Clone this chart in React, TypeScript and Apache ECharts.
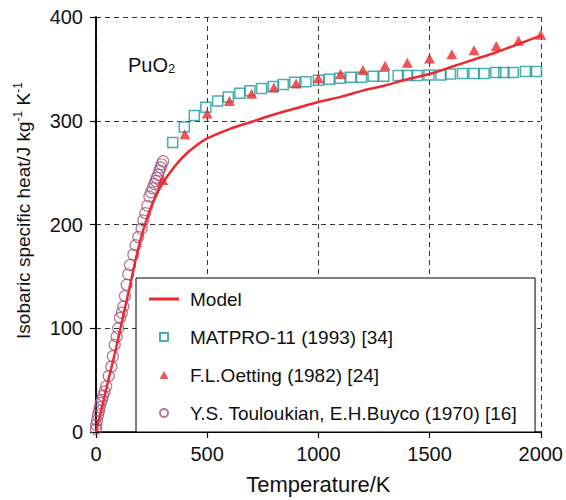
import React, { useEffect, useRef } from 'react';
import * as echarts from 'echarts';

const FONT = '"Liberation Sans", Arial, Helvetica, sans-serif';

const seriesNames = [
  'Model',
  'MATPRO-11 (1993) [34]',
  'F.L.Oetting (1982) [24]',
  'Y.S. Touloukian, E.H.Buyco (1970) [16]',
];

const xTicks = [0, 500, 1000, 1500, 2000];
const yTicks = [0, 100, 200, 300, 400];

const modelT = [0, 25, 50, 75, 100, 125, 150, 175, 200, 225, 250, 275, 300, 350, 400, 450, 500, 600, 700, 800, 900, 1000, 1100, 1200, 1300, 1400, 1500, 1600, 1700, 1800, 1900, 2000];
const modelCp = [0, 22, 45, 67, 90, 115, 138, 163, 185, 203, 218, 230, 240, 255, 267, 276, 283, 292, 299, 306, 312, 318, 323, 329, 334, 340, 345, 352, 359, 366, 374, 382];

const matproT = [345, 397, 442, 494, 547, 595, 647, 692, 745, 797, 842, 894, 944, 1000, 1049, 1097, 1146, 1194, 1246, 1294, 1359, 1401, 1444, 1497, 1551, 1594, 1648, 1699, 1745, 1798, 1834, 1876, 1931, 1981];
const matproCp = [279, 294, 305, 313, 319, 323, 326.5, 329, 331, 333, 335, 337, 337.5, 339, 340, 341, 342, 342, 343, 343, 343.5, 343.5, 343.5, 344, 344, 345, 345.5, 345.5, 345.5, 346.5, 346.5, 346.5, 347.4, 347.4];

const oettingT = [300, 400, 500, 600, 700, 800, 900, 1000, 1100, 1200, 1300, 1400, 1500, 1600, 1700, 1800, 1900, 2000];
const oettingCp = [243, 287, 307, 319, 326, 332, 336, 341, 345, 349, 353, 356, 360, 364, 368, 372, 377, 383];

const toulT = [0, 1, 4, 9, 13, 17, 21, 27, 32, 39, 46, 57, 69, 76, 84, 93, 100, 108, 116, 123, 130, 138, 145, 153, 168, 178, 190, 205, 213, 222, 231, 240, 247, 255, 262, 268, 273, 280, 285, 291, 295, 302];
const toulCp = [3, 7, 11, 16, 20, 24, 28, 31, 35, 39, 44, 54, 63, 73, 84, 92, 100, 110, 115, 121, 131, 142, 152, 161, 171, 180, 188, 196, 204, 211, 218, 227, 231, 235, 239, 242, 245, 248, 252, 255, 258, 261];

const zip = (a: number[], b: number[]) => a.map((v, i) => [v, b[i]]);

const RED = '#ea2a2e';
const TEAL = '#1a9a9c';
const PURPLE = '#a0527f';

export default function App() {
  const ref = useRef<HTMLDivElement>(null);
  useEffect(() => {
    const chart = echarts.init(ref.current!, null, { renderer: 'svg' });
    const dash = { color: '#333', width: 1, type: [5, 4] as any };
    chart.setOption({
      animation: false,
      backgroundColor: '#fff',
      textStyle: { fontFamily: FONT },
      grid: { left: 96, right: 25, top: 17, bottom: 62 },
      xAxis: [
        {
          type: 'value', min: xTicks[0], max: xTicks[xTicks.length - 1], interval: 500,
          name: 'Temperature/K', nameLocation: 'middle', nameGap: 41,
          nameTextStyle: { fontSize: 22, color: '#111', fontFamily: FONT },
          axisLine: { show: true, lineStyle: { color: '#000', width: 1.5 } },
          axisTick: { show: true, inside: false, length: 6, lineStyle: { color: '#000', width: 1.2 } },
          axisLabel: { fontSize: 20, color: '#111', margin: 12, fontFamily: FONT, formatter: (v: number) => String(v) },
          splitLine: { show: true, lineStyle: dash },
        },
        {
          type: 'value', position: 'top', min: 0, max: 2000, interval: 500,
          axisLine: { show: true, lineStyle: { color: '#000', width: 1.2 } },
          axisTick: { show: false }, axisLabel: { show: false }, splitLine: { show: false },
        },
      ],
      yAxis: [
        {
          type: 'value', min: yTicks[0], max: yTicks[yTicks.length - 1], interval: 100,
          name: 'Isobaric specific heat/J kg{s|-1} K{s|-1}', nameLocation: 'middle', nameRotate: 90, nameGap: 62,
          nameTextStyle: {
            fontSize: 19, color: '#111', fontFamily: FONT, lineHeight: 22, padding: [0, 0, 0, 28],
            rich: { s: { fontSize: 12, verticalAlign: 'top', lineHeight: 12, fontFamily: FONT, color: '#111' } },
          },
          axisLine: { show: true, lineStyle: { color: '#000', width: 1.5 } },
          axisTick: { show: true, inside: false, length: 6, lineStyle: { color: '#000', width: 1.2 } },
          axisLabel: { fontSize: 20, color: '#111', margin: 13, fontFamily: FONT },
          splitLine: { show: true, lineStyle: dash },
        },
        {
          type: 'value', position: 'right', min: 0, max: 400, interval: 100,
          axisLine: { show: true, lineStyle: { color: '#000', width: 1.5 } },
          axisTick: { show: true, inside: true, length: 5, lineStyle: { color: '#000', width: 1 } },
          axisLabel: { show: false }, splitLine: { show: false },
        },
      ],
      legend: {
        orient: 'vertical', left: 136, top: 278,
        backgroundColor: '#fff', borderColor: '#000', borderWidth: 1,
        padding: [11, 18, 9, 13],
        itemWidth: 30, itemHeight: 8, itemGap: 18,
        symbolKeepAspect: true,
        textStyle: { fontSize: 19, color: '#111', fontFamily: FONT, lineHeight: 20, padding: [0, 0, 0, 6] },
        data: [
          { name: seriesNames[0], icon: 'path://M0,0h30v3h-30z', itemStyle: { color: RED, borderWidth: 0 } },
          { name: seriesNames[1], icon: 'path://M0,0h10v10h-10z' },
          { name: seriesNames[2], icon: 'path://M5,0L10,9L0,9z' },
          { name: seriesNames[3], icon: 'path://M0,5a5,5 0 1,0 10,0a5,5 0 1,0 -10,0z' },
        ],
      },
      graphic: [
        {
          type: 'text', left: 128, top: 55,
          style: {
            text: 'PuO{b|2}', fontSize: 20, fontFamily: FONT, fill: '#111',
            rich: { b: { fontSize: 13, verticalAlign: 'bottom', fontFamily: FONT, fill: '#111' } },
          },
        },
      ],
      series: [
        {
          name: seriesNames[3], type: 'scatter', data: zip(toulT, toulCp),
          symbol: 'circle', symbolSize: 11, z: 2,
          itemStyle: { color: 'rgba(255,255,255,0)', borderColor: PURPLE, borderWidth: 1.2 },
        },
        {
          name: seriesNames[1], type: 'scatter', data: zip(matproT, matproCp),
          symbol: 'rect', symbolSize: 10, z: 2,
          itemStyle: { color: 'rgba(255,255,255,0)', borderColor: TEAL, borderWidth: 1.5 },
        },
        {
          name: seriesNames[0], type: 'line', data: zip(modelT, modelCp),
          symbol: 'none', showSymbol: false, smooth: 0.3, z: 3,
          lineStyle: { color: RED, width: 2.5 }, itemStyle: { color: RED },
        },
        {
          name: seriesNames[2], type: 'scatter', data: zip(oettingT, oettingCp),
          symbol: 'triangle', symbolSize: [11, 10], z: 4,
          itemStyle: { color: RED },
        },
      ],
    });
    return () => chart.dispose();
  }, []);
  return <div ref={ref} style={{ position: 'fixed', left: 0, top: 0, width: 566, height: 500 }} />;
}
